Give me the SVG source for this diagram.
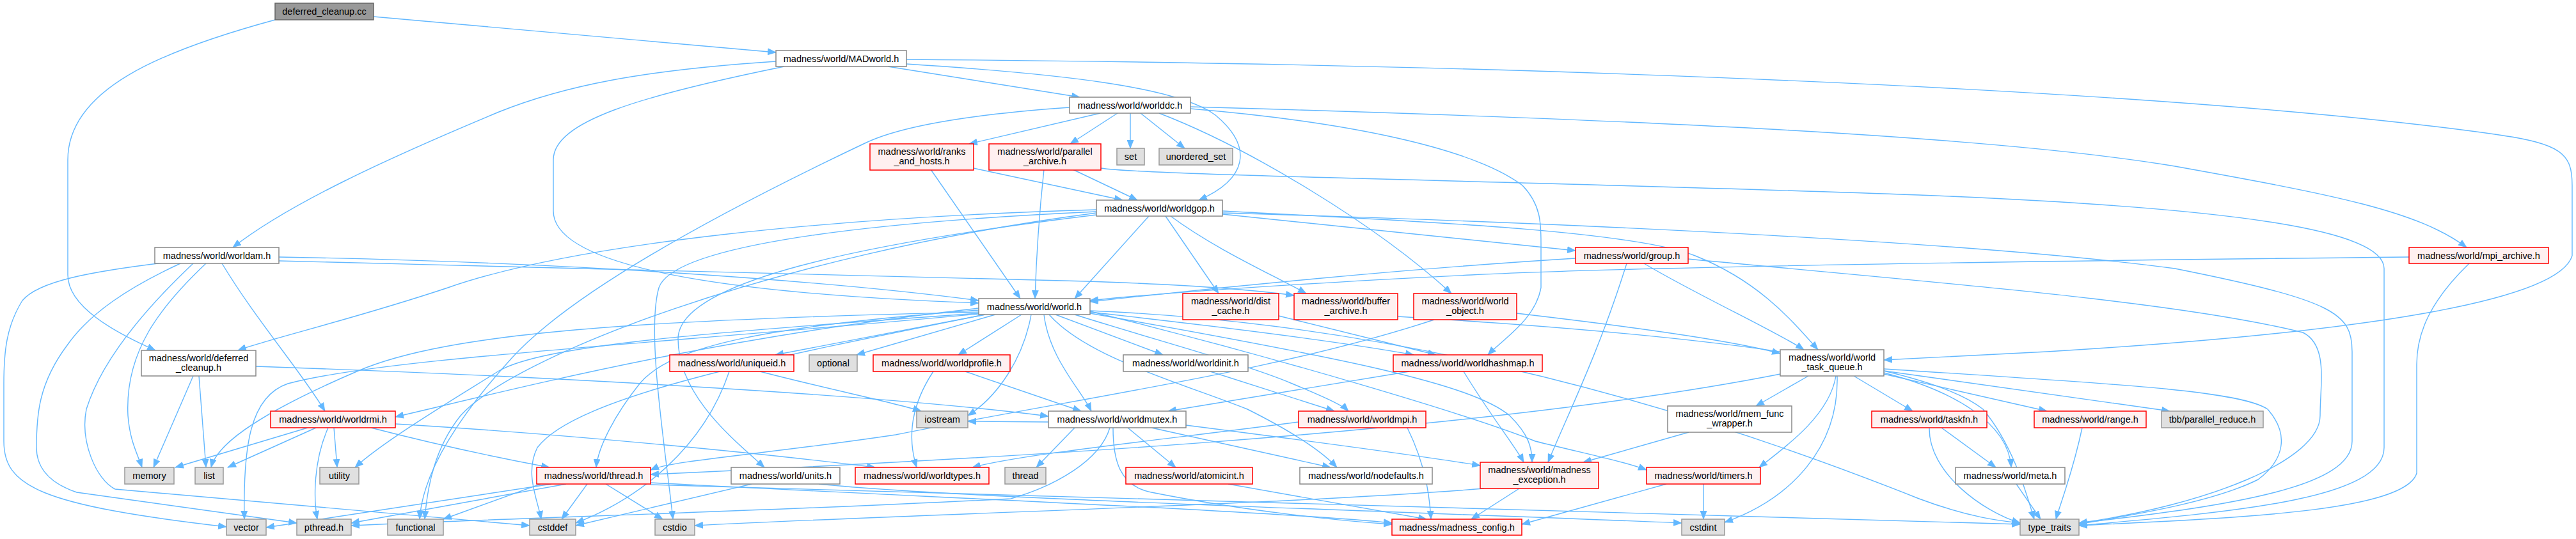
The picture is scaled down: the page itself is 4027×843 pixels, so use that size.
<svg xmlns="http://www.w3.org/2000/svg" width="4027" height="843" viewBox="0 0 4027 843">
<style>
.e{fill:none;stroke:#63B8FF;stroke-width:1.4}
.n rect{fill:#FFFFFF;stroke:#888888;stroke-width:1.5}
.r rect{fill:#FFF0F0;stroke:#FF0000;stroke-width:1.5}
.g rect{fill:#E0E0E0;stroke:#999999;stroke-width:1.5}
.m rect{fill:#999999;stroke:#666666;stroke-width:1.5}
text{font-family:"Liberation Sans",Arial,sans-serif;font-size:14.5px;fill:#000;text-anchor:middle}
</style>
<defs>
<marker id="a" markerUnits="userSpaceOnUse" markerWidth="14" markerHeight="11" refX="13" refY="5.5" orient="auto"><path d="M0,0 L14,5.5 L0,11 z" fill="#63B8FF"/></marker>
</defs>
<rect width="4027" height="843" fill="#FFFFFF"/>
<g id="edges" marker-end="url(#a)">
<path class="e" d="M584,26 L1213,82"/>
<path class="e" d="M430,31 C250,80 106,140 106,250 L106,430 C106,480 180,520 243,548"/>
<path class="e" d="M1388,104 L1688,152"/>
<path class="e" d="M1417,100 C1650,115 1840,135 1900,180 C1960,230 1950,280 1874,313"/>
<path class="e" d="M1213,96 C1000,110 880,135 780,175 C600,250 450,320 364,387"/>
<path class="e" d="M1226,104 C1000,150 865,190 865,250 L865,330 C865,420 1150,460 1530,474"/>
<path class="e" d="M1417,93 C2400,100 3400,140 3900,210 C4005,225 4021,240 4021,290 L4021,400 C4000,470 3700,520 3200,550 L2945,563"/>
<path class="e" d="M1720,177 L1515,225"/>
<path class="e" d="M1747,177 L1673,225"/>
<path class="e" d="M1767,177 L1767,232"/>
<path class="e" d="M1783,177 L1852,232"/>
<path class="e" d="M1672,168 C1500,180 1400,200 1350,225 C1150,320 900,450 800,560 C700,670 660,750 656,812"/>
<path class="e" d="M1861,167 C2500,185 3100,210 3400,260 C3650,305 3780,330 3856,387"/>
<path class="e" d="M1861,170 C2100,190 2300,230 2380,290 C2409,320 2409,350 2409,380 L2409,450 C2400,500 2350,530 2326,555"/>
<path class="e" d="M1812,177 C1950,230 2150,350 2269,459"/>
<path class="e" d="M1522,263 L1755,313"/>
<path class="e" d="M1455,265 L1595,467"/>
<path class="e" d="M1677,265 L1778,313"/>
<path class="e" d="M1632,265 C1625,330 1620,400 1618,467"/>
<path class="e" d="M1721,263 C1800,275 2400,283 3000,305 C3500,325 3727,360 3727,420 L3727,700 C3727,780 3500,800 3250,822"/>
<path class="e" d="M1714,328 C1300,340 900,380 700,450 C550,500 420,530 372,548"/>
<path class="e" d="M1796,338 L1680,467"/>
<path class="e" d="M1911,335 L2463,392"/>
<path class="e" d="M1911,330 C2200,345 2550,360 2650,400 C2750,440 2800,500 2842,547"/>
<path class="e" d="M1911,333 C2500,350 3100,380 3400,420 C3650,470 3677,490 3677,550 L3677,690 C3677,760 3500,790 3250,818"/>
<path class="e" d="M1822,338 L1905,459"/>
<path class="e" d="M1830,338 C1900,390 1990,430 2042,459"/>
<path class="e" d="M1714,336 C1350,380 1060,440 1060,530 C1060,620 1150,690 1195,731"/>
<path class="e" d="M1714,331 C1300,350 1050,390 1030,450 C1010,520 1040,700 1052,812"/>
<path class="e" d="M1714,333 C1200,400 800,560 720,650 C680,700 668,760 664,812"/>
<path class="e" d="M436,402 C900,410 1300,440 1530,470"/>
<path class="e" d="M347,412 C400,500 470,580 508,643"/>
<path class="e" d="M322,412 C250,480 195,550 200,650 C203,690 215,710 222,731"/>
<path class="e" d="M255,411 C140,425 60,440 35,470 C10,510 6,550 6,600 L6,690 C6,760 60,790 354,824"/>
<path class="e" d="M282,412 C200,450 140,490 105,540 C60,600 57,650 57,700 C57,740 90,760 120,770 L464,818"/>
<path class="e" d="M302,412 C230,480 160,560 135,640 C125,690 150,750 180,765 L828,822"/>
<path class="e" d="M436,408 C900,420 1400,430 1700,440 C1850,445 1950,452 2023,462"/>
<path class="e" d="M1540,492 L1212,555"/>
<path class="e" d="M1556,492 L1339,555"/>
<path class="e" d="M1597,492 L1498,555"/>
<path class="e" d="M1650,492 L1818,555"/>
<path class="e" d="M1632,492 C1640,560 1690,610 1706,643"/>
<path class="e" d="M1680,492 C1800,530 1950,570 2020,600 C2080,625 2100,635 2108,643"/>
<path class="e" d="M1704,488 C1900,510 2100,535 2210,555"/>
<path class="e" d="M1612,492 C1600,560 1560,620 1513,650"/>
<path class="e" d="M1530,485 C1200,510 1050,540 1000,600 C960,650 935,700 932,731"/>
<path class="e" d="M1530,488 C1000,500 700,520 560,580 C420,640 340,690 330,731"/>
<path class="e" d="M1530,490 C1100,520 850,540 780,580 C700,630 600,690 555,731"/>
<path class="e" d="M1640,492 C1700,560 1850,600 1950,640 C2030,680 2070,710 2090,731"/>
<path class="e" d="M1540,492 C1200,560 900,620 840,700 C820,740 840,780 846,812"/>
<path class="e" d="M1530,482 C1100,530 800,610 618,652"/>
<path class="e" d="M1530,491 C1000,540 600,560 450,600 C390,620 380,700 382,812"/>
<path class="e" d="M1704,487 C2000,560 2300,650 2400,690 C2480,710 2540,722 2574,735"/>
<path class="e" d="M1704,490 C2100,560 2300,600 2360,650 C2390,680 2395,700 2395,723"/>
<path class="e" d="M1704,486 C2300,510 2800,700 3000,780 C3080,810 3130,815 3158,818"/>
<path class="e" d="M1188,581 C1300,610 1400,630 1440,643"/>
<path class="e" d="M1140,581 C1100,700 1000,780 900,818"/>
<path class="e" d="M1459,581 C1420,640 1420,690 1433,731"/>
<path class="e" d="M1509,581 L1690,643"/>
<path class="e" d="M1892,581 L2086,643"/>
<path class="e" d="M1999,494 L2245,555"/>
<path class="e" d="M2242,500 C2000,580 1700,620 1400,680 C1200,710 1050,720 1017,735"/>
<path class="e" d="M2371,490 C2500,505 2700,530 2783,553"/>
<path class="e" d="M2185,495 C2600,520 3000,560 3100,640 C3150,700 3170,780 3180,812"/>
<path class="e" d="M2203,581 L1826,643"/>
<path class="e" d="M2288,581 C2330,650 2370,700 2382,723"/>
<path class="e" d="M2827,588 L2745,635"/>
<path class="e" d="M2898,588 L2990,643"/>
<path class="e" d="M2945,585 L3200,643"/>
<path class="e" d="M2945,580 L3392,643"/>
<path class="e" d="M2945,577 C3300,600 3500,610 3545,640 C3580,680 3570,720 3530,750 C3450,790 3300,810 3250,820"/>
<path class="e" d="M2945,583 C3050,610 3140,660 3144,731"/>
<path class="e" d="M2870,588 C2860,650 2790,700 2750,731"/>
<path class="e" d="M2872,588 C2875,700 2800,780 2696,817"/>
<path class="e" d="M2783,585 C2300,680 1500,720 1017,742"/>
<path class="e" d="M2640,676 L2475,723"/>
<path class="e" d="M3035,669 L3120,731"/>
<path class="e" d="M3016,669 C3015,740 3100,800 3158,818"/>
<path class="e" d="M3255,669 C3240,740 3220,790 3214,812"/>
<path class="e" d="M3152,757 L3190,812"/>
<path class="e" d="M3766,402 C3000,410 2500,420 2300,430 C2000,445 1800,460 1704,470"/>
<path class="e" d="M3860,412 C3800,470 3778,520 3778,570 L3778,740 C3760,800 3500,810 3250,822"/>
<path class="e" d="M2463,404 C2200,420 1900,450 1704,472"/>
<path class="e" d="M2543,412 C2500,550 2450,650 2420,723"/>
<path class="e" d="M2570,412 C2650,460 2780,520 2820,547"/>
<path class="e" d="M2639,405 C3000,440 3400,470 3600,520 C3640,540 3627,600 3627,650 C3627,720 3450,790 3250,818"/>
<path class="e" d="M302,588 L240,731"/>
<path class="e" d="M311,588 L322,731"/>
<path class="e" d="M400,573 C900,590 1400,620 1639,651"/>
<path class="e" d="M481,669 L274,731"/>
<path class="e" d="M494,669 L356,731"/>
<path class="e" d="M513,669 C490,720 490,780 496,812"/>
<path class="e" d="M522,669 L527,731"/>
<path class="e" d="M618,663 C900,680 1200,710 1368,731"/>
<path class="e" d="M580,669 C700,700 800,720 859,731"/>
<path class="e" d="M1680,669 L1620,731"/>
<path class="e" d="M1763,669 L1838,731"/>
<path class="e" d="M1800,669 L2080,731"/>
<path class="e" d="M1854,665 C2050,690 2200,710 2314,728"/>
<path class="e" d="M1740,669 C1740,720 1750,760 1800,770 C1950,800 2100,815 2176,820"/>
<path class="e" d="M1735,669 C1720,720 1650,760 1580,780 C1200,800 800,810 549,822"/>
<path class="e" d="M1639,660 L1513,659"/>
<path class="e" d="M1920,757 L2230,812"/>
<path class="e" d="M2375,764 L2300,812"/>
<path class="e" d="M2320,764 C2000,790 1400,805 1086,822"/>
<path class="e" d="M918,757 L878,812"/>
<path class="e" d="M947,757 L1036,812"/>
<path class="e" d="M885,757 L549,818"/>
<path class="e" d="M862,757 L416,825"/>
<path class="e" d="M845,757 L693,812"/>
<path class="e" d="M1017,755 C1500,780 2000,800 2176,818"/>
<path class="e" d="M1017,758 C2000,790 2800,805 3158,820"/>
<path class="e" d="M1175,757 L900,822"/>
<path class="e" d="M1280,757 C1500,780 2200,800 2629,818"/>
<path class="e" d="M2030,660 C1800,690 1600,710 1520,731"/>
<path class="e" d="M2200,669 C2230,730 2235,780 2237,812"/>
<path class="e" d="M2663,757 L2663,812"/>
<path class="e" d="M2605,757 L2379,820"/>
</g>
<g id="n1" class="m"><rect x="430" y="5" width="154" height="26"/><text x="507" y="23">deferred_cleanup.cc</text></g>
<g id="n2" class="n"><rect x="1213" y="79" width="204" height="25"/><text x="1315" y="96.5">madness/world/MADworld.h</text></g>
<g id="n3" class="n"><rect x="1672" y="152" width="189" height="25"/><text x="1766.5" y="169.5">madness/world/worlddc.h</text></g>
<g id="n4" class="r"><rect x="1360" y="225" width="162" height="41"/><text x="1441" y="242">madness/world/ranks</text><text x="1441" y="257">_and_hosts.h</text></g>
<g id="n5" class="r"><rect x="1546" y="225" width="175" height="41"/><text x="1633.5" y="242">madness/world/parallel</text><text x="1633.5" y="257">_archive.h</text></g>
<g id="n6" class="g"><rect x="1746" y="232" width="43" height="26"/><text x="1767.5" y="250">set</text></g>
<g id="n7" class="g"><rect x="1812" y="232" width="115" height="26"/><text x="1869.5" y="250">unordered_set</text></g>
<g id="n8" class="n"><rect x="1714" y="313" width="197" height="25"/><text x="1812.5" y="330.5">madness/world/worldgop.h</text></g>
<g id="n9" class="n"><rect x="242" y="387" width="194" height="25"/><text x="339" y="404.5">madness/world/worldam.h</text></g>
<g id="n10" class="r"><rect x="2463" y="387" width="176" height="25"/><text x="2551" y="404.5">madness/world/group.h</text></g>
<g id="n11" class="r"><rect x="3766" y="387" width="218" height="25"/><text x="3875" y="404.5">madness/world/mpi_archive.h</text></g>
<g id="n12" class="n"><rect x="1530" y="467" width="174" height="25"/><text x="1617" y="484.5">madness/world/world.h</text></g>
<g id="n13" class="r"><rect x="1849" y="459" width="150" height="41"/><text x="1924" y="476">madness/world/dist</text><text x="1924" y="491">_cache.h</text></g>
<g id="n14" class="r"><rect x="2023" y="459" width="162" height="41"/><text x="2104" y="476">madness/world/buffer</text><text x="2104" y="491">_archive.h</text></g>
<g id="n15" class="r"><rect x="2210" y="459" width="161" height="41"/><text x="2290.5" y="476">madness/world/world</text><text x="2290.5" y="491">_object.h</text></g>
<g id="n16" class="n"><rect x="221" y="548" width="179" height="40"/><text x="310.5" y="565">madness/world/deferred</text><text x="310.5" y="580">_cleanup.h</text></g>
<g id="n17" class="r"><rect x="1047" y="555" width="194" height="26"/><text x="1144" y="573">madness/world/uniqueid.h</text></g>
<g id="n18" class="g"><rect x="1265" y="555" width="75" height="26"/><text x="1302.5" y="573">optional</text></g>
<g id="n19" class="r"><rect x="1365" y="555" width="214" height="26"/><text x="1472" y="573">madness/world/worldprofile.h</text></g>
<g id="n20" class="n"><rect x="1756" y="555" width="195" height="26"/><text x="1853.5" y="573">madness/world/worldinit.h</text></g>
<g id="n21" class="r"><rect x="2178" y="555" width="233" height="26"/><text x="2294.5" y="573">madness/world/worldhashmap.h</text></g>
<g id="n22" class="n"><rect x="2783" y="547" width="162" height="41"/><text x="2864" y="564">madness/world/world</text><text x="2864" y="579">_task_queue.h</text></g>
<g id="n23" class="r"><rect x="423" y="643" width="195" height="26"/><text x="520.5" y="661">madness/world/worldrmi.h</text></g>
<g id="n24" class="g"><rect x="1433" y="643" width="80" height="26"/><text x="1473" y="661">iostream</text></g>
<g id="n25" class="n"><rect x="1639" y="643" width="215" height="26"/><text x="1746.5" y="661">madness/world/worldmutex.h</text></g>
<g id="n26" class="r"><rect x="2030" y="643" width="199" height="26"/><text x="2129.5" y="661">madness/world/worldmpi.h</text></g>
<g id="n27" class="n"><rect x="2607" y="635" width="194" height="41"/><text x="2704" y="652">madness/world/mem_func</text><text x="2704" y="667">_wrapper.h</text></g>
<g id="n28" class="r"><rect x="2926" y="643" width="180" height="26"/><text x="3016" y="661">madness/world/taskfn.h</text></g>
<g id="n29" class="r"><rect x="3180" y="643" width="175" height="26"/><text x="3267.5" y="661">madness/world/range.h</text></g>
<g id="n30" class="g"><rect x="3379" y="643" width="159" height="26"/><text x="3458.5" y="661">tbb/parallel_reduce.h</text></g>
<g id="n31" class="g"><rect x="195" y="731" width="77" height="26"/><text x="233.5" y="749">memory</text></g>
<g id="n32" class="g"><rect x="305" y="731" width="44" height="26"/><text x="327" y="749">list</text></g>
<g id="n33" class="g"><rect x="500" y="731" width="61" height="26"/><text x="530.5" y="749">utility</text></g>
<g id="n34" class="r"><rect x="839" y="731" width="178" height="26"/><text x="928" y="749">madness/world/thread.h</text></g>
<g id="n35" class="n"><rect x="1143" y="731" width="170" height="26"/><text x="1228" y="749">madness/world/units.h</text></g>
<g id="n36" class="r"><rect x="1337" y="731" width="209" height="26"/><text x="1441.5" y="749">madness/world/worldtypes.h</text></g>
<g id="n37" class="g"><rect x="1571" y="731" width="64" height="26"/><text x="1603" y="749">thread</text></g>
<g id="n38" class="r"><rect x="1760" y="731" width="198" height="26"/><text x="1859" y="749">madness/world/atomicint.h</text></g>
<g id="n39" class="n"><rect x="2032" y="731" width="207" height="26"/><text x="2135.5" y="749">madness/world/nodefaults.h</text></g>
<g id="n40" class="r"><rect x="2314" y="723" width="185" height="41"/><text x="2406.5" y="740">madness/world/madness</text><text x="2406.5" y="755">_exception.h</text></g>
<g id="n41" class="r"><rect x="2574" y="731" width="178" height="26"/><text x="2663" y="749">madness/world/timers.h</text></g>
<g id="n42" class="n"><rect x="3057" y="731" width="171" height="26"/><text x="3142.5" y="749">madness/world/meta.h</text></g>
<g id="n43" class="g"><rect x="354" y="812" width="62" height="25"/><text x="385" y="829.5">vector</text></g>
<g id="n44" class="g"><rect x="464" y="812" width="85" height="25"/><text x="506.5" y="829.5">pthread.h</text></g>
<g id="n45" class="g"><rect x="606" y="812" width="87" height="25"/><text x="649.5" y="829.5">functional</text></g>
<g id="n46" class="g"><rect x="828" y="812" width="72" height="25"/><text x="864" y="829.5">cstddef</text></g>
<g id="n47" class="g"><rect x="1024" y="812" width="62" height="25"/><text x="1055" y="829.5">cstdio</text></g>
<g id="n48" class="r"><rect x="2176" y="812" width="203" height="25"/><text x="2277.5" y="829.5">madness/madness_config.h</text></g>
<g id="n49" class="g"><rect x="2629" y="812" width="67" height="25"/><text x="2662.5" y="829.5">cstdint</text></g>
<g id="n50" class="g"><rect x="3158" y="812" width="92" height="25"/><text x="3204" y="829.5">type_traits</text></g>
</svg>
